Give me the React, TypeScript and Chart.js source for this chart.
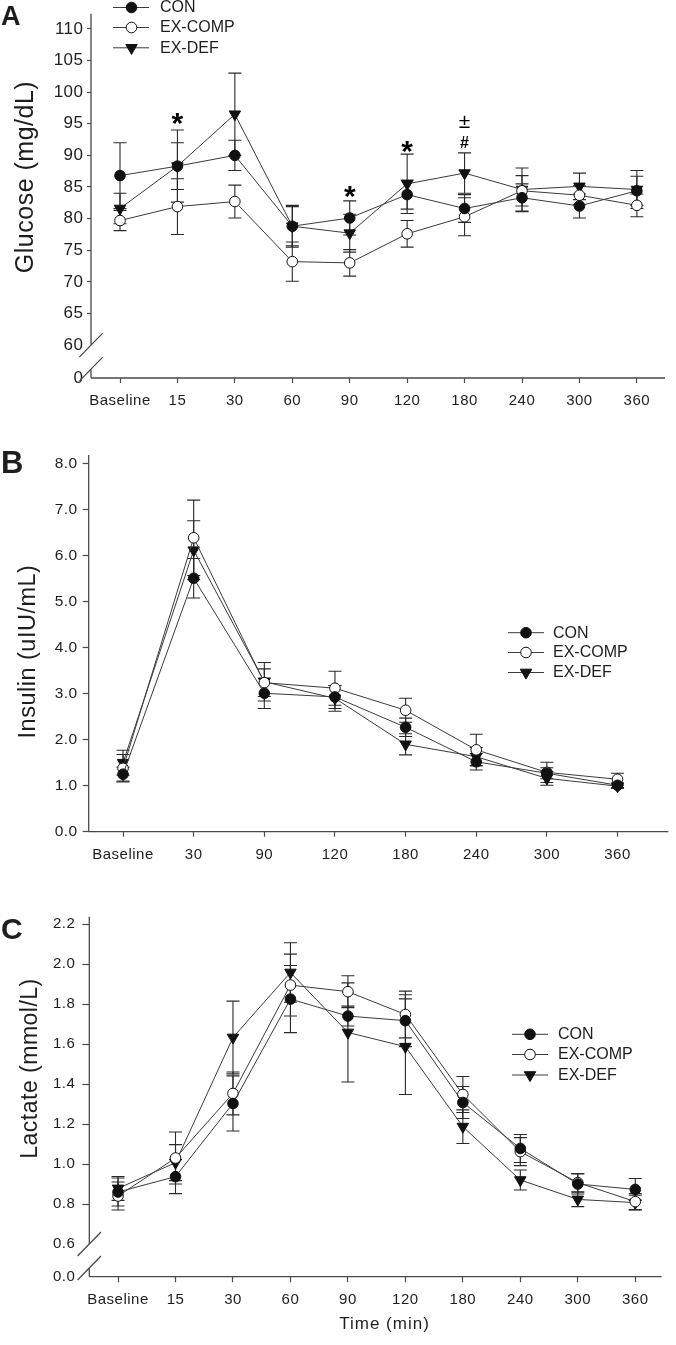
import React, { useEffect, useRef } from 'react';
import { Chart, registerables } from 'chart.js';

Chart.register(...registerables);

// ---------------- data ----------------
const groupNames = ['CON', 'EX-COMP', 'EX-DEF'];

const glucoseCategories = ['Baseline', '15', '30', '60', '90', '120', '180', '240', '300', '360'];
const glucoseCON = [86.8, 88.3, 90.0, 78.8, 80.1, 83.8, 81.6, 83.3, 82.0, 84.4];
const glucoseCONse = [5.2, 3.7, 2.4, 3.1, 2.7, 2.3, 2.2, 2.2, 1.9, 2.3];
const glucoseCOMP = [79.7, 81.9, 82.7, 73.2, 73.0, 77.6, 80.3, 84.4, 83.7, 82.1];
const glucoseCOMPse = [1.6, 4.4, 2.6, 3.1, 2.1, 2.1, 3.0, 2.4, 1.5, 1.8];
const glucoseDEF = [81.6, 88.3, 96.5, 78.8, 77.7, 85.5, 87.2, 84.6, 85.1, 84.6];
const glucoseDEFse = [2.4, 5.7, 6.5, 3.3, 3.0, 4.7, 3.2, 3.4, 2.1, 3.0];
const glucoseTickValues = [54.8, 60, 65, 70, 75, 80, 85, 90, 95, 100, 105, 110];

const insulinCategories = ['Baseline', '30', '90', '120', '180', '240', '300', '360'];
const insulinCON = [1.25, 5.51, 3.01, 2.93, 2.27, 1.52, 1.27, 1.01];
const insulinCONse = [0.15, 0.43, 0.33, 0.25, 0.2, 0.18, 0.12, 0.05];
const insulinCOMP = [1.38, 6.39, 3.24, 3.12, 2.64, 1.78, 1.29, 1.14];
const insulinCOMPse = [0.3, 0.82, 0.3, 0.37, 0.26, 0.34, 0.22, 0.13];
const insulinDEF = [1.5, 6.12, 3.26, 2.9, 1.9, 1.63, 1.16, 0.99];
const insulinDEFse = [0.27, 0.64, 0.42, 0.28, 0.23, 0.2, 0.15, 0.05];
const insulinTickValues = [0, 1, 2, 3, 4, 5, 6, 7, 8];

const lactateCategories = ['Baseline', '15', '30', '60', '90', '120', '180', '240', '300', '360'];
const lactateCON = [0.86, 0.937, 1.303, 1.825, 1.74, 1.717, 1.308, 1.078, 0.9, 0.873];
const lactateCONse = [0.07, 0.085, 0.138, 0.168, 0.05, 0.13, 0.08, 0.07, 0.05, 0.055];
const lactateCOMP = [0.84, 1.03, 1.353, 1.895, 1.862, 1.748, 1.348, 1.062, 0.907, 0.812];
const lactateCOMPse = [0.07, 0.13, 0.107, 0.155, 0.08, 0.117, 0.09, 0.07, 0.046, 0.04];
const lactateDEF = [0.878, 1.007, 1.633, 1.958, 1.658, 1.587, 1.187, 0.92, 0.823, 0.807];
const lactateDEFse = [0.06, 0.09, 0.182, 0.149, 0.248, 0.239, 0.084, 0.05, 0.036, 0.037];
const lactateTickValues = [0.4365, 0.6, 0.8, 1.0, 1.2, 1.4, 1.6, 1.8, 2.0, 2.2];

// ---------------- styles ----------------
const FONT = "'Liberation Sans', Arial, Helvetica, sans-serif";
const INK = '#1e1e1e';
const AXIS = '#4a4a4a';
const LINE = '#3c3c3c';
const MARK = '#111111';
const CAP = 6.5;
const CIRCLE_R = 5.3;
const TRI_R = 6.6;
const W = 676;

type Marker = 'filled' | 'open' | 'tri';
interface SeriesDef { name: string; values: number[]; se: number[]; marker: Marker }
interface TextMark { text: string; x: number; y: number; font: string; align?: CanvasTextAlign; baseline?: CanvasTextBaseline; rotate?: boolean; spacing?: number }
interface Annot { text: string; index: number; value: number; font: string; lift: number }
interface PanelDef {
  canvasTop: number; canvasHeight: number;
  area: { left: number; right: number; top: number; bottom: number };
  categories: string[];
  xMin: number; xMax: number;
  yMin: number; yMax: number;
  yTickValues: number[];
  yTickLabel: (v: number) => string;
  yTickFont: number; yTickLen: number; yTickPad: number;
  xTickFont: number; xTickLen: number; xTickPad: number;
  breakValue: number | null;
  series: SeriesDef[];
  texts: TextMark[];
  legend: { lineX0: number; lineX1: number; markX: number; textX: number; rows: number[] };
  annots: Annot[];
}

const markers: Marker[] = ['filled', 'open', 'tri'];

const panelA: PanelDef = {
  canvasTop: 0, canvasHeight: 430,
  area: { left: 91, right: 665, top: 12, bottom: 378 },
  categories: glucoseCategories,
  xMin: -0.505, xMax: 9.49,
  yMin: 54.8, yMax: 112.4,
  yTickValues: glucoseTickValues,
  yTickLabel: (v) => (v < 60 ? '0' : String(Math.round(v))),
  yTickFont: 17, yTickLen: 4, yTickPad: 3.5,
  xTickFont: 15, xTickLen: 5, xTickPad: 9,
  breakValue: 60,
  series: [
    { name: groupNames[0], values: glucoseCON, se: glucoseCONse, marker: markers[0] },
    { name: groupNames[1], values: glucoseCOMP, se: glucoseCOMPse, marker: markers[1] },
    { name: groupNames[2], values: glucoseDEF, se: glucoseDEFse, marker: markers[2] },
  ],
  texts: [
    { text: 'A', x: 1, y: 25, font: `bold 27px ${FONT}`, align: 'left', baseline: 'alphabetic', spacing: 0 },
    { text: 'Glucose (mg/dL)', x: 26, y: 177, font: `25px ${FONT}`, rotate: true, spacing: 0.5 },
  ],
  legend: { lineX0: 113, lineX1: 149, markX: 131.5, textX: 160, rows: [7.5, 27.5, 47.8] },
  annots: [
    { text: '*', index: 1, value: 96.2, font: `bold 30px ${FONT}`, lift: 0.56 },
    { text: '*', index: 4, value: 84.7, font: `bold 30px ${FONT}`, lift: 0.56 },
    { text: '*', index: 5, value: 91.8, font: `bold 30px ${FONT}`, lift: 0.56 },
    { text: '±', index: 6, value: 95.4, font: `21px ${FONT}`, lift: 0.32 },
    { text: '#', index: 6, value: 92.0, font: `bold 16px ${FONT}`, lift: 0.36 },
  ],
};

const panelB: PanelDef = {
  canvasTop: 430, canvasHeight: 450,
  area: { left: 88.7, right: 675, top: 455, bottom: 831.7 },
  categories: insulinCategories,
  xMin: -0.486, xMax: 7.72,
  yMin: 0, yMax: 8.19,
  yTickValues: insulinTickValues,
  yTickLabel: (v) => v.toFixed(1),
  yTickFont: 15.5, yTickLen: 6, yTickPad: 5,
  xTickFont: 15, xTickLen: 5, xTickPad: 9,
  breakValue: null,
  series: [
    { name: groupNames[0], values: insulinCON, se: insulinCONse, marker: markers[0] },
    { name: groupNames[1], values: insulinCOMP, se: insulinCOMPse, marker: markers[1] },
    { name: groupNames[2], values: insulinDEF, se: insulinDEFse, marker: markers[2] },
  ],
  texts: [
    { text: 'B', x: 1, y: 473, font: `bold 31px ${FONT}`, align: 'left', baseline: 'alphabetic', spacing: 0 },
    { text: 'Insulin (uIU/mL)', x: 29, y: 651.5, font: `23.5px ${FONT}`, rotate: true, spacing: 0.5 },
  ],
  legend: { lineX0: 508, lineX1: 544, markX: 526, textX: 553, rows: [632.7, 652.5, 672.5] },
  annots: [],
};

const panelC: PanelDef = {
  canvasTop: 880, canvasHeight: 465,
  area: { left: 89.3, right: 661.7, top: 916.7, bottom: 1276.7 },
  categories: lactateCategories,
  xMin: -0.5, xMax: 9.46,
  yMin: 0.4365, yMax: 2.237,
  yTickValues: lactateTickValues,
  yTickLabel: (v) => (v < 0.6 ? '0.0' : v.toFixed(1)),
  yTickFont: 15, yTickLen: 7, yTickPad: 7,
  xTickFont: 15, xTickLen: 5.5, xTickPad: 9,
  breakValue: 0.6,
  series: [
    { name: groupNames[0], values: lactateCON, se: lactateCONse, marker: markers[0] },
    { name: groupNames[1], values: lactateCOMP, se: lactateCOMPse, marker: markers[1] },
    { name: groupNames[2], values: lactateDEF, se: lactateDEFse, marker: markers[2] },
  ],
  texts: [
    { text: 'C', x: 1, y: 939, font: `bold 30px ${FONT}`, align: 'left', baseline: 'alphabetic', spacing: 0 },
    { text: 'Lactate (mmol/L)', x: 31, y: 1068.5, font: `23px ${FONT}`, rotate: true, spacing: 0.5 },
    { text: 'Time (min)', x: 384.5, y: 1328.5, font: `17px ${FONT}`, align: 'center', baseline: 'alphabetic', spacing: 1 },
  ],
  legend: { lineX0: 512, lineX1: 548, markX: 530, textX: 558, rows: [1034.3, 1054.5, 1075] },
  annots: [],
};

const panels = [panelA, panelB, panelC];

// ---------------- drawing helpers ----------------
function drawMarker(ctx: CanvasRenderingContext2D, kind: Marker, x: number, y: number) {
  ctx.save();
  ctx.lineWidth = 1;
  ctx.strokeStyle = MARK;
  ctx.beginPath();
  if (kind === 'tri') {
    const s = Math.sin(Math.PI / 3) * TRI_R;
    ctx.moveTo(x, y + TRI_R);
    ctx.lineTo(x - s, y - TRI_R / 2);
    ctx.lineTo(x + s, y - TRI_R / 2);
    ctx.closePath();
    ctx.fillStyle = MARK;
  } else {
    ctx.arc(x, y, CIRCLE_R, 0, Math.PI * 2);
    ctx.fillStyle = kind === 'open' ? '#ffffff' : MARK;
  }
  ctx.fill();
  ctx.stroke();
  ctx.restore();
}

function setSpacing(ctx: CanvasRenderingContext2D, px: number) {
  (ctx as any).letterSpacing = `${px}px`;
}

function makePlugin(p: PanelDef) {
  return {
    id: 'panelDecor',
    beforeDraw(chart: any) {
      const ctx = chart.ctx as CanvasRenderingContext2D;
      ctx.save();
      ctx.fillStyle = '#ffffff';
      ctx.fillRect(0, 0, chart.width, chart.height);
      ctx.restore();
      setSpacing(ctx, 0.5);
    },
    beforeDatasetsDraw(chart: any) {
      const ctx = chart.ctx as CanvasRenderingContext2D;
      const xs = chart.scales.x;
      const ys = chart.scales.y;
      ctx.save();
      ctx.strokeStyle = '#2a2a2a';
      ctx.lineWidth = 1.1;
      p.series.forEach((s) => {
        s.values.forEach((v, i) => {
          const x = xs.getPixelForValue(i);
          const y1 = ys.getPixelForValue(v + s.se[i]);
          const y2 = ys.getPixelForValue(v - s.se[i]);
          ctx.beginPath();
          ctx.moveTo(x, y1); ctx.lineTo(x, y2);
          ctx.moveTo(x - CAP, y1); ctx.lineTo(x + CAP, y1);
          ctx.moveTo(x - CAP, y2); ctx.lineTo(x + CAP, y2);
          ctx.stroke();
        });
      });
      ctx.restore();
    },
    afterDraw(chart: any) {
      const ctx = chart.ctx as CanvasRenderingContext2D;
      const xs = chart.scales.x;
      const ys = chart.scales.y;
      const { left: L, right: R, top: T, bottom: B } = chart.chartArea;
      const off = p.canvasTop;

      // axes
      ctx.save();
      ctx.strokeStyle = AXIS;
      ctx.lineWidth = 1.3;
      ctx.beginPath();
      if (p.breakValue !== null) {
        const yb = ys.getPixelForValue(p.breakValue);
        const y2 = yb + 24;
        ctx.moveTo(L, T); ctx.lineTo(L, yb);
        ctx.moveTo(L - 11.7, yb + 12); ctx.lineTo(L + 11.7, yb - 12);
        ctx.moveTo(L - 11.7, y2 + 12); ctx.lineTo(L + 11.7, y2 - 12);
        ctx.moveTo(L, y2); ctx.lineTo(L, B);
      } else {
        ctx.moveTo(L, T); ctx.lineTo(L, B);
      }
      ctx.moveTo(L, B); ctx.lineTo(R, B);
      ctx.stroke();
      ctx.restore();

      // texts
      p.texts.forEach((t) => {
        ctx.save();
        setSpacing(ctx, t.spacing ?? 0);
        ctx.font = t.font;
        ctx.fillStyle = INK;
        if (t.rotate) {
          ctx.translate(t.x, t.y - off);
          ctx.rotate(-Math.PI / 2);
          ctx.textAlign = 'center';
          ctx.textBaseline = 'middle';
          ctx.fillText(t.text, 0, 0);
        } else {
          ctx.textAlign = t.align ?? 'left';
          ctx.textBaseline = t.baseline ?? 'alphabetic';
          ctx.fillText(t.text, t.x, t.y - off);
        }
        ctx.restore();
      });

      // annotations (significance marks)
      p.annots.forEach((a) => {
        ctx.save();
        setSpacing(ctx, 0);
        ctx.font = a.font;
        ctx.fillStyle = '#000';
        ctx.textAlign = 'center';
        ctx.textBaseline = 'alphabetic';
        const size = parseFloat(a.font.replace(/^bold\s+/, ''));
        ctx.fillText(a.text, xs.getPixelForValue(a.index), ys.getPixelForValue(a.value) + a.lift * size);
        ctx.restore();
      });

      // legend
      const lg = p.legend;
      p.series.forEach((s, k) => {
        const y = lg.rows[k] - off;
        ctx.save();
        ctx.strokeStyle = LINE;
        ctx.lineWidth = 1;
        ctx.beginPath();
        ctx.moveTo(lg.lineX0, y); ctx.lineTo(lg.lineX1, y);
        ctx.stroke();
        ctx.restore();
        drawMarker(ctx, s.marker, lg.markX, y);
        ctx.save();
        setSpacing(ctx, 0);
        ctx.font = `16px ${FONT}`;
        ctx.fillStyle = INK;
        ctx.textAlign = 'left';
        ctx.textBaseline = 'middle';
        ctx.fillText(s.name, lg.textX, y + 0.5);
        ctx.restore();
      });
    },
  };
}

function buildConfig(p: PanelDef): any {
  const hidden = (v: number) => p.breakValue !== null && (v <= p.breakValue + 1e-9);
  const datasets = p.series.map((s) => ({
    label: s.name,
    data: s.values.map((v, i) => ({ x: i, y: v })),
    borderColor: LINE,
    borderWidth: 1,
    fill: false,
    tension: 0,
    pointStyle: s.marker === 'tri' ? 'triangle' : 'circle',
    pointRadius: s.marker === 'tri' ? TRI_R : CIRCLE_R,
    pointRotation: s.marker === 'tri' ? 180 : 0,
    pointBackgroundColor: s.marker === 'open' ? '#ffffff' : MARK,
    pointBorderColor: MARK,
    pointBorderWidth: 1,
    pointHoverRadius: 0,
  }));
  return {
    type: 'line',
    data: { datasets },
    options: {
      responsive: false,
      animation: false,
      events: [],
      layout: { padding: { top: p.area.top - p.canvasTop, right: W - p.area.right, left: 0, bottom: 0 } },
      plugins: { legend: { display: false }, tooltip: { enabled: false }, title: { display: false } },
      scales: {
        x: {
          type: 'linear',
          min: p.xMin,
          max: p.xMax,
          afterFit: (s: any) => { s.height = p.canvasTop + p.canvasHeight - p.area.bottom; },
          afterBuildTicks: (s: any) => { s.ticks = p.categories.map((_, i) => ({ value: i })); },
          ticks: {
            callback: (v: any) => p.categories[Math.round(Number(v))] ?? '',
            font: { family: FONT, size: p.xTickFont },
            color: INK,
            padding: p.xTickPad,
            autoSkip: false,
            maxRotation: 0,
            minRotation: 0,
          },
          grid: { drawOnChartArea: false, drawTicks: true, tickLength: p.xTickLen, tickColor: AXIS, tickWidth: 1.2 },
          border: { display: false },
        },
        y: {
          type: 'linear',
          min: p.yMin,
          max: p.yMax,
          afterFit: (s: any) => { s.width = p.area.left; },
          afterBuildTicks: (s: any) => { s.ticks = p.yTickValues.map((v) => ({ value: v })); },
          ticks: {
            callback: (v: any) => p.yTickLabel(Number(v)),
            font: { family: FONT, size: p.yTickFont },
            color: INK,
            padding: p.yTickPad,
            autoSkip: false,
          },
          grid: {
            drawOnChartArea: false,
            drawTicks: true,
            tickLength: p.yTickLen,
            tickWidth: 1.2,
            tickColor: (c: any) => (c.tick && hidden(c.tick.value) ? 'rgba(0,0,0,0)' : AXIS),
          },
          border: { display: false },
        },
      },
    },
    plugins: [makePlugin(p)],
  };
}

function PanelChart({ panel }: { panel: PanelDef }) {
  const ref = useRef<HTMLCanvasElement>(null);
  useEffect(() => {
    if (!ref.current) return;
    const chart = new Chart(ref.current, buildConfig(panel));
    return () => chart.destroy();
  }, [panel]);
  return (
    <canvas
      ref={ref}
      width={W}
      height={panel.canvasHeight}
      style={{ position: 'absolute', left: 0, top: panel.canvasTop, width: W, height: panel.canvasHeight, display: 'block' }}
    />
  );
}

export default function App() {
  return (
    <div style={{ position: 'absolute', left: 0, top: 0, width: W, height: 1345, background: '#ffffff', overflow: 'hidden' }}>
      {panels.map((p, i) => (
        <PanelChart key={i} panel={p} />
      ))}
    </div>
  );
}
